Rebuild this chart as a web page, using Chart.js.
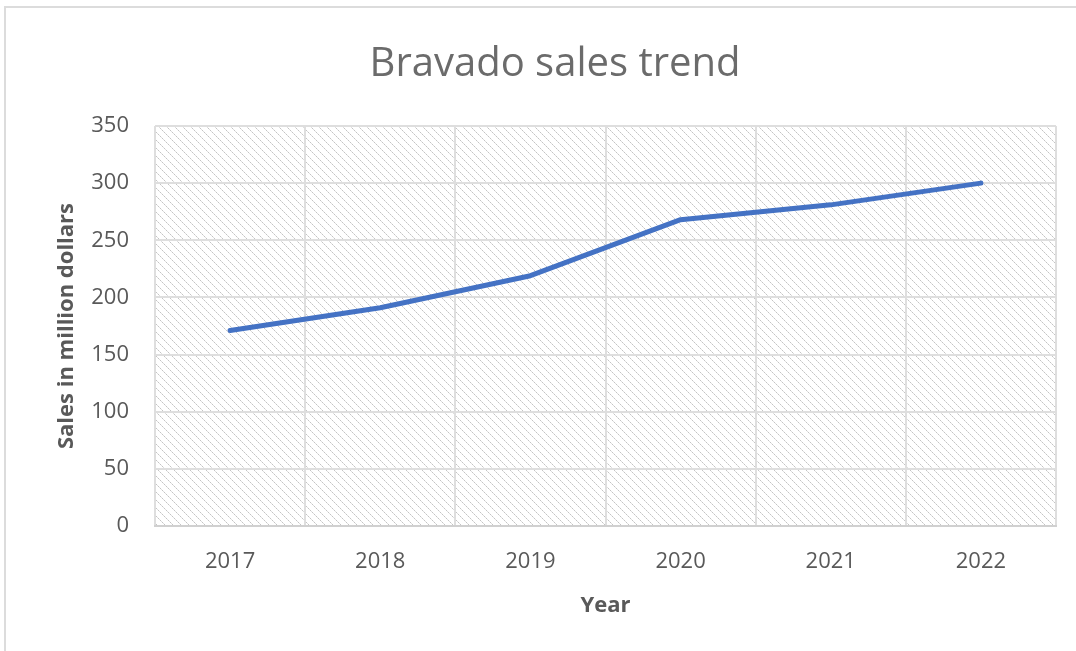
<!DOCTYPE html>
<html>
<head>
<meta charset="utf-8">
<script src="https://cdn.jsdelivr.net/npm/chart.js@4"></script>
<style>
  html, body { margin: 0; padding: 0; background: #ffffff; }
  #wrap { width: 1076px; height: 651px; position: relative; }
</style>
</head>
<body>
<div id="wrap"><canvas id="c" width="1076" height="651"></canvas></div>
<script>
const categories = ["2017", "2018", "2019", "2020", "2021", "2022"];
const salesValues = [171, 191, 219, 268, 281, 300];
const chartTitle = "Bravado sales trend";
const yAxisTitle = "Sales in million dollars";
const xAxisTitle = "Year";

function makeHatch() {
  const t = document.createElement('canvas');
  t.width = 8; t.height = 8;
  const g = t.getContext('2d');
  g.fillStyle = '#ffffff';
  g.fillRect(0, 0, 8, 8);
  for (let i = 0; i < 8; i++) {
    g.fillStyle = (i % 2 === 0) ? '#c4c4c4' : '#dedede';
    g.fillRect(i, i, 1, 1);
  }
  return g.createPattern(t, 'repeat');
}

const plotBg = {
  id: 'plotBg',
  beforeDraw(chart) {
    const ctx = chart.ctx;
    const a = chart.chartArea;
    ctx.save();
    ctx.fillStyle = makeHatch();
    ctx.fillRect(a.left, a.top, a.right - a.left, a.bottom - a.top);
    ctx.strokeStyle = '#dcdcdc';
    ctx.lineWidth = 2;
    ctx.beginPath();
    ctx.moveTo(5, 651); ctx.lineTo(5, 7); ctx.lineTo(1076, 7);
    ctx.stroke();
    ctx.restore();
  }
};

new Chart(document.getElementById('c'), {
  type: 'line',
  data: {
    labels: categories,
    datasets: [{
      data: salesValues,
      borderColor: '#4472C4',
      borderWidth: 5,
      pointRadius: 0,
      tension: 0,
      fill: false,
      borderCapStyle: 'round',
      borderJoinStyle: 'round'
    }]
  },
  options: {
    responsive: false,
    animation: false,
    layout: { padding: { left: 54, right: 20, top: 41, bottom: 32 } },
    plugins: {
      legend: { display: false },
      tooltip: { enabled: false },
      title: {
        display: true,
        text: chartTitle,
        color: '#6b6b6b',
        font: { family: 'Open Sans', size: 40, weight: 'normal' },
        padding: { top: 0, bottom: 37 }
      }
    },
    scales: {
      x: {
        offset: true,
        afterFit(scale) { scale.height = 93; },
        grid: { offset: true, color: '#dedede', lineWidth: 2, drawTicks: false },
        border: { display: true, color: '#d0d0d0', width: 2 },
        ticks: { color: '#595959', font: { family: 'Open Sans', size: 22 }, padding: 23 },
        title: { display: true, text: xAxisTitle, color: '#595959', font: { family: 'Open Sans', size: 22, weight: 'bold' }, padding: { top: 0, bottom: 0 } }
      },
      y: {
        min: 0, max: 350,
        afterFit(scale) { scale.width = 101; },
        ticks: { stepSize: 50, color: '#595959', font: { family: 'Open Sans', size: 22 }, padding: 26 },
        grid: { color: '#dedede', lineWidth: 2, drawTicks: false },
        border: { display: false },
        title: { display: true, text: yAxisTitle, color: '#595959', font: { family: 'Open Sans', size: 22, weight: 'bold' }, padding: { top: 0, bottom: 0 } }
      }
    }
  },
  plugins: [plotBg]
});
</script>
</body>
</html>
